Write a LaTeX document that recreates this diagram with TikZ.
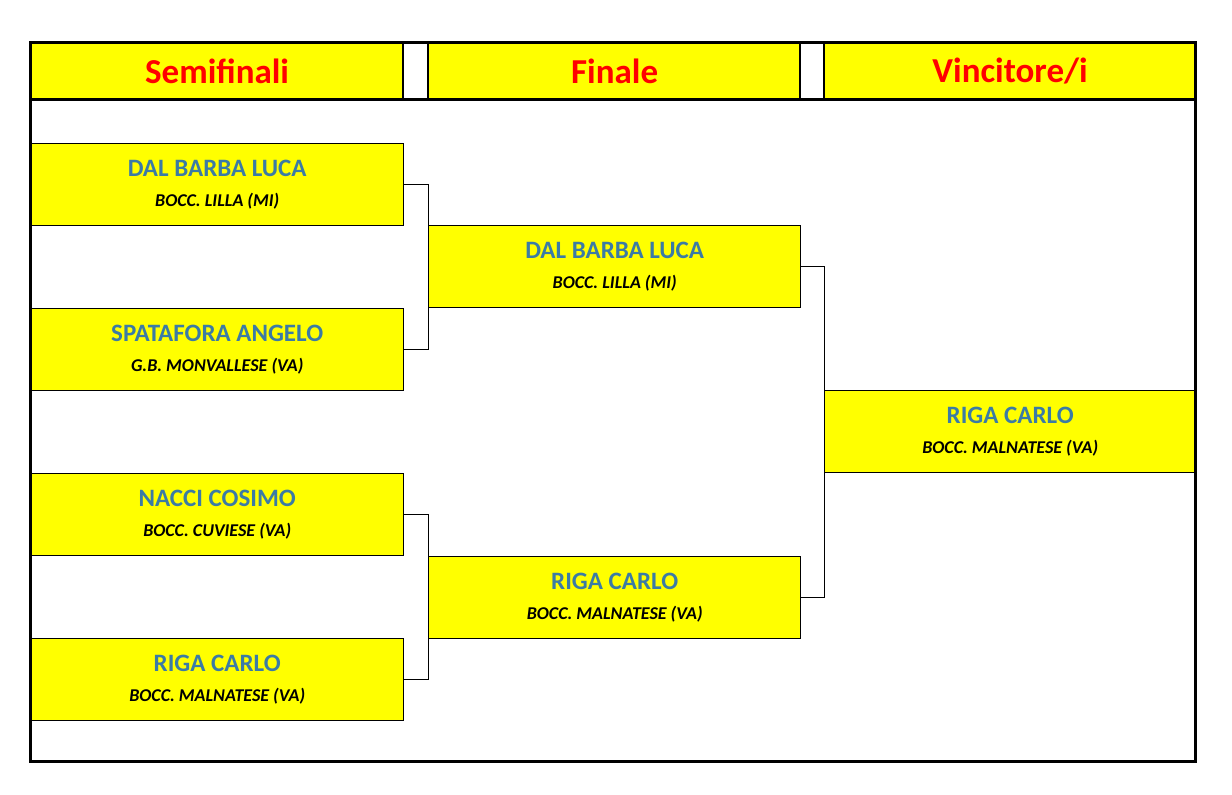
\documentclass[tikz,border=0pt]{standalone}
\usepackage{fontspec}
\setmainfont{Carlito}
\usetikzlibrary{positioning,calc}
\definecolor{boxyellow}{RGB}{255,255,0}
\definecolor{nameblue}{RGB}{59,123,165}
\definecolor{headred}{RGB}{255,0,0}
\tikzset{
  cell/.style={draw=black,line width=1.4pt,fill=boxyellow,anchor=north west,
    minimum width=373pt,minimum height=82pt,inner sep=0pt,align=center},
  head/.style={cell,line width=1.2pt,minimum height=57pt,
    font=\fontsize{35}{38}\selectfont\bfseries,text=headred},
  link/.style={line width=1pt}
}
\newcommand{\player}[2]{{\fontsize{25}{30}\selectfont\bfseries\color{nameblue}#1}\\[15pt]
  {\fontsize{18}{22}\selectfont\bfseries\itshape #2}}
\begin{document}
\begin{tikzpicture}[x=1pt,y=-1pt]
  \useasboundingbox[fill=white] (0,0) rectangle (1232,795);
  % header row
  \node[head] (hsemi) at (30,42) {Semifinali};
  \node[head,minimum width=372pt] (hfin) at (428,42) {Finale};
  \node[head,minimum width=371pt] (hwin) at (824,42) {Vincitore/i};
  \draw[line width=1.2pt] (403,42) rectangle (428,99);
  \draw[line width=1.2pt] (800,42) rectangle (824,99);
  % semifinals
  \node[cell] (s1) at (30,143) {\player{DAL BARBA LUCA}{BOCC. LILLA (MI)}};
  \node[cell] (s2) at (30,308) {\player{SPATAFORA ANGELO}{G.B. MONVALLESE (VA)}};
  \node[cell] (s3) at (30,473) {\player{NACCI COSIMO}{BOCC. CUVIESE (VA)}};
  \node[cell] (s4) at (30,638) {\player{RIGA CARLO}{BOCC. MALNATESE (VA)}};
  % finals
  \node[cell,minimum width=372pt] (f1) at (428,225) {\player{DAL BARBA LUCA}{BOCC. LILLA (MI)}};
  \node[cell,minimum width=372pt] (f2) at (428,556) {\player{RIGA CARLO}{BOCC. MALNATESE (VA)}};
  % winner
  \node[cell,minimum width=371pt] (w) at (824,390) {\player{RIGA CARLO}{BOCC. MALNATESE (VA)}};
  % brackets
  \draw[link] (s1.east) -- (s1.east -| f1.west) -- (s2.east -| f1.west) -- (s2.east);
  \draw[link] (s3.east) -- (s3.east -| f2.west) -- (s4.east -| f2.west) -- (s4.east);
  \draw[link] (f1.east) -- (f1.east -| w.west) -- (f2.east -| w.west) -- (f2.east);
  % frame
  \draw[line width=3pt] (30,99) -- (1195,99);
  \draw[line width=3pt] (30,42) rectangle (1195,761);
\end{tikzpicture}
\end{document}
